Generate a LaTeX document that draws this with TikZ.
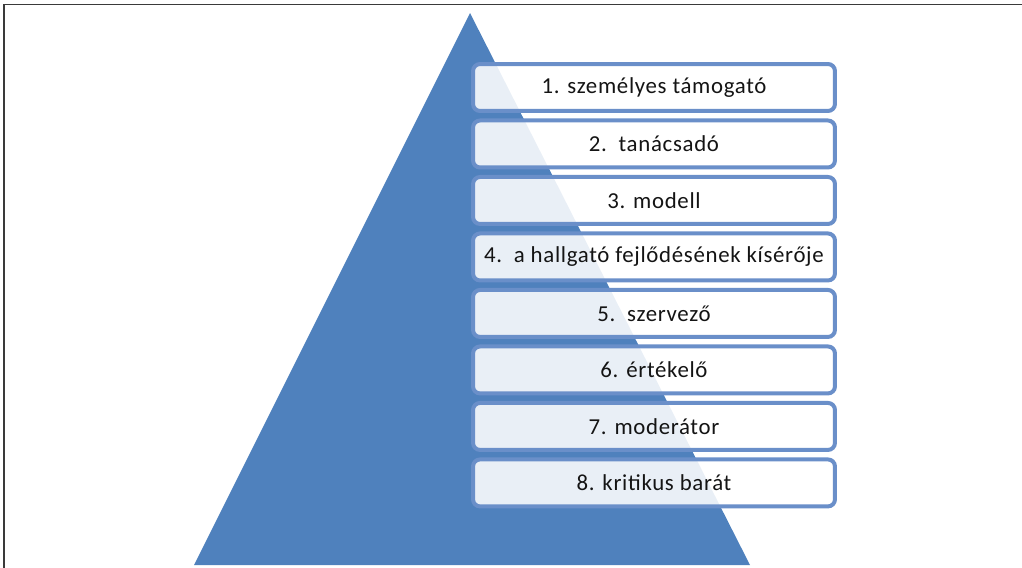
\documentclass[tikz,border=0pt]{standalone}
\usepackage{fontspec}
\setmainfont{Carlito}[LetterSpace=3]
\usetikzlibrary{positioning}
\definecolor{pyrblue}{HTML}{4F81BD}
\definecolor{roleedge}{HTML}{6A8FC9}
\definecolor{roletext}{HTML}{141414}
\definecolor{framegray}{HTML}{3A3A3A}

\begin{document}
\begin{tikzpicture}[
    x=0.02cm, y=-0.02cm,
    node distance=0.11cm,
    role/.style={rectangle, draw=roleedge, line width=0.08cm, fill=white, fill opacity=0.88, text opacity=1, text=roletext, minimum width=7.24cm, minimum height=0.94cm, rounded corners=4pt, inner sep=0pt, font=\fontsize{13}{15}\selectfont},
    frame/.style={draw=framegray, line width=0.035cm},
]

\useasboundingbox (0,0) rectangle (1022,568);

% frame and pyramid
\draw[frame] (4,568) -- (4,4.5) -- (1022,4.5);
\fill[pyrblue] (470,13) -- (750,565) -- (194,565) -- cycle;

\node[role] (r1) at (654,87.5) {1. személyes támogató};
\node[role, below=of r1] (r2) {2.\ \ tanácsadó};
\node[role, below=of r2] (r3) {3. modell};
\node[role, below=of r3] (r4) {4.\ \ a hallgató fejlődésének kísérője};
\node[role, below=of r4] (r5) {5.\ \ szervező};
\node[role, below=of r5] (r6) {6. értékelő};
\node[role, below=of r6] (r7) {7. moderátor};
\node[role, below=of r7] (r8) {8. kritikus barát};

\end{tikzpicture}
\end{document}
